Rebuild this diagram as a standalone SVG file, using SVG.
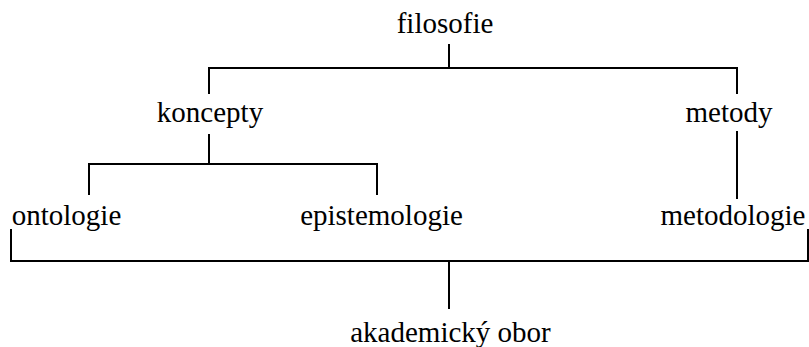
<svg xmlns="http://www.w3.org/2000/svg" width="809" height="347" viewBox="0 0 809 347">
<style>
.c{fill:none;stroke:#000;stroke-width:2;stroke-linecap:square}
</style>
<rect width="809" height="347" fill="#fff"/>
<g id="connectors">
<path class="c" d="M449 45V68M209 93V68H737V93"/>
<path class="c" d="M209 135V164M89 194V164H377V194"/>
<path class="c" d="M737 132V198"/>
<path class="c" d="M11 230V261H808V230M449 261V308"/>
</g>
<g id="filosofie"><text x="445" y="33" font-family="Times New Roman" font-size="29" text-anchor="middle">filosofie</text></g>
<g id="koncepty"><text x="210" y="122" font-family="Times New Roman" font-size="29" text-anchor="middle">koncepty</text></g>
<g id="metody"><text x="729" y="122" font-family="Times New Roman" font-size="29" text-anchor="middle">metody</text></g>
<g id="ontologie"><text x="66.5" y="225" font-family="Times New Roman" font-size="29" text-anchor="middle">ontologie</text></g>
<g id="epistemologie"><text x="381.5" y="225" font-family="Times New Roman" font-size="29" text-anchor="middle">epistemologie</text></g>
<g id="metodologie"><text x="733" y="225" font-family="Times New Roman" font-size="29" text-anchor="middle">metodologie</text></g>
<g id="akademicky-obor"><text x="450.5" y="342" font-family="Times New Roman" font-size="29" text-anchor="middle">akademický obor</text></g>
</svg>
